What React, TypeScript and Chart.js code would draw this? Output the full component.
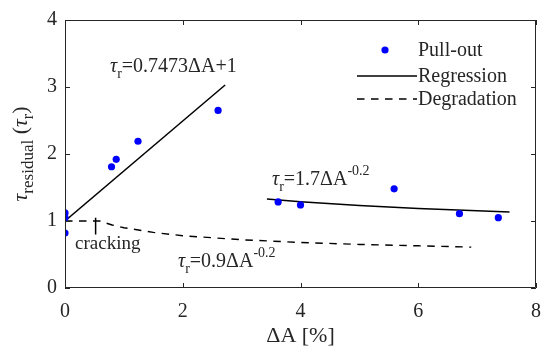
import React, { useEffect, useRef } from "react";
import { Chart, registerables } from "chart.js";

Chart.register(...registerables);

// Data
const pullOutX = [0, 0, 0, 0.79, 0.87, 1.24, 2.6, 3.62, 4.0, 5.59, 6.7, 7.36];
const pullOutY = [1.12, 1.05, 0.82, 1.81, 1.92, 2.19, 2.65, 1.285, 1.24, 1.48, 1.11, 1.05];

const reg1X = [0, 2.72];
const reg1Y = [1, 3.03];

const reg2X = [3.43, 4, 5, 6, 7, 7.55];
const reg2Y = [1.33, 1.288, 1.232, 1.188, 1.152, 1.135];

const degX = [0, 0.59, 0.8, 1, 1.5, 2, 3, 4, 5, 6, 6.9];
const degY = [1, 1, 0.94, 0.9, 0.83, 0.78, 0.72, 0.68, 0.65, 0.63, 0.61];

const crackX = [0.52, 0.52];
const crackY = [1.05, 0.8];

const xTicks = [0, 2, 4, 6, 8];
const yTicks = [0, 1, 2, 3, 4];

const legendLabels = ["Pull-out", "Regression", "Degradation"];

const FONT = '"Liberation Serif"';
const TXT = "#262626";

const pts = (xs: number[], ys: number[]) => xs.map((x, i) => ({ x, y: ys[i] }));

type Part = { t: string; size: number; dy?: number; italic?: boolean };

function measureParts(ctx: CanvasRenderingContext2D, parts: Part[]) {
  let w = 0;
  for (const p of parts) {
    ctx.font = `${p.italic ? "italic " : ""}${p.size}px ${FONT}`;
    w += ctx.measureText(p.t).width;
  }
  return w;
}

function drawParts(ctx: CanvasRenderingContext2D, x: number, y: number, parts: Part[]) {
  ctx.textBaseline = "alphabetic";
  ctx.textAlign = "left";
  let cx = x;
  for (const p of parts) {
    ctx.font = `${p.italic ? "italic " : ""}${p.size}px ${FONT}`;
    ctx.fillText(p.t, cx, y + (p.dy || 0));
    cx += ctx.measureText(p.t).width;
  }
}

const overlay = {
  id: "overlay",
  afterDatasetsDraw(chart: any) {
    const ctx: CanvasRenderingContext2D = chart.ctx;
    const { left, right, top, bottom } = chart.chartArea;
    const xs = chart.scales.x;
    const ys = chart.scales.y;
    ctx.save();
    ctx.strokeStyle = TXT;
    ctx.lineWidth = 1;
    ctx.beginPath();
    ctx.rect(left + 0.5, top + 0.5, right - left - 1, bottom - top - 1);
    ctx.stroke();
    const tl = 5;
    ctx.beginPath();
    for (const v of xTicks) {
      const px = Math.round(xs.getPixelForValue(v)) + 0.5;
      ctx.moveTo(px, bottom);
      ctx.lineTo(px, bottom - tl);
      ctx.moveTo(px, top);
      ctx.lineTo(px, top + tl);
    }
    for (const v of yTicks) {
      const py = Math.round(ys.getPixelForValue(v)) + 0.5;
      ctx.moveTo(left, py);
      ctx.lineTo(left + tl, py);
      ctx.moveTo(right, py);
      ctx.lineTo(right - tl, py);
    }
    ctx.stroke();
    ctx.restore();
  },
  afterDraw(chart: any) {
    const ctx: CanvasRenderingContext2D = chart.ctx;
    ctx.save();
    ctx.fillStyle = TXT;

    drawParts(ctx, 110, 72, [
      { t: "τ", size: 20, italic: true },
      { t: "r", size: 14, dy: 6 },
      { t: "=0.7473ΔA+1", size: 20 },
    ]);
    drawParts(ctx, 272, 185, [
      { t: "τ", size: 20, italic: true },
      { t: "r", size: 14, dy: 6 },
      { t: "=1.7ΔA", size: 20 },
      { t: "-0.2", size: 14, dy: -10 },
    ]);
    drawParts(ctx, 178, 267, [
      { t: "τ", size: 20, italic: true },
      { t: "r", size: 14, dy: 6 },
      { t: "=0.9ΔA", size: 20 },
      { t: "-0.2", size: 14, dy: -10 },
    ]);
    drawParts(ctx, 75, 249, [{ t: "cracking", size: 19 }]);

    const xt: Part[] = [{ t: "ΔA [%]", size: 22 }];
    const xw = measureParts(ctx, xt);
    const xc = (chart.chartArea.left + chart.chartArea.right) / 2;
    drawParts(ctx, xc - xw / 2, 342, xt);

    const yt: Part[] = [
      { t: "τ", size: 22, italic: true },
      { t: "residual", size: 17, dy: 6 },
      { t: " (", size: 22 },
      { t: "τ", size: 22, italic: true },
      { t: "r", size: 16, dy: 6 },
      { t: ")", size: 22 },
    ];
    const yw = measureParts(ctx, yt);
    const yc = (chart.chartArea.top + chart.chartArea.bottom) / 2;
    ctx.save();
    ctx.translate(27, yc);
    ctx.rotate(-Math.PI / 2);
    drawParts(ctx, -yw / 2, 0, yt);
    ctx.restore();

    const lx0 = 357;
    const lx1 = 417;
    const rows = [50, 76, 99];
    ctx.fillStyle = "#0000ff";
    ctx.beginPath();
    ctx.arc((lx0 + lx1) / 2 - 2, rows[0], 3.6, 0, Math.PI * 2);
    ctx.fill();
    ctx.strokeStyle = "#000";
    ctx.lineWidth = 1.5;
    ctx.beginPath();
    ctx.moveTo(lx0, rows[1]);
    ctx.lineTo(lx1, rows[1]);
    ctx.stroke();
    ctx.setLineDash([7.5, 6.5]);
    ctx.beginPath();
    ctx.moveTo(lx0, rows[2]);
    ctx.lineTo(lx1, rows[2]);
    ctx.stroke();
    ctx.setLineDash([]);
    ctx.fillStyle = TXT;
    ctx.font = `20px ${FONT}`;
    ctx.textBaseline = "middle";
    ctx.textAlign = "left";
    legendLabels.forEach((lab, i) => {
      ctx.fillText(lab, lx1 + 1, rows[i] + 1);
    });
    ctx.restore();
  },
};

export default function App() {
  const ref = useRef<HTMLCanvasElement | null>(null);
  useEffect(() => {
    const canvas = ref.current!;
    const chart = new Chart(canvas, {
      type: "scatter",
      data: {
        datasets: [
          {
            label: "Pull-out",
            data: pts(pullOutX, pullOutY),
            pointRadius: 3.6,
            pointBackgroundColor: "#0000ff",
            pointBorderWidth: 0,
            showLine: false,
          },
          {
            label: "Regression",
            data: pts(reg1X, reg1Y),
            showLine: true,
            borderColor: "#000",
            borderWidth: 1.5,
            pointRadius: 0,
          },
          {
            label: "Regression 2",
            data: pts(reg2X, reg2Y),
            showLine: true,
            borderColor: "#000",
            borderWidth: 1.5,
            pointRadius: 0,
          },
          {
            label: "Degradation",
            data: pts(degX, degY),
            showLine: true,
            borderColor: "#000",
            borderWidth: 1.4,
            borderDash: [7.5, 6.5],
            pointRadius: 0,
          },
          {
            label: "cracking",
            data: pts(crackX, crackY),
            showLine: true,
            borderColor: "#000",
            borderWidth: 1.5,
            pointRadius: 0,
          },
        ],
      },
      options: {
        animation: false,
        responsive: false,
        devicePixelRatio: 1,
        layout: { padding: { top: 15, right: 6, left: 0, bottom: 0 } },
        plugins: { legend: { display: false }, tooltip: { enabled: false } },
        scales: {
          x: {
            type: "linear",
            min: 0,
            max: 8,
            afterFit: (s: any) => {
              s.height = 66;
            },
            afterBuildTicks: (s: any) => {
              s.ticks = xTicks.map((v) => ({ value: v }));
            },
            grid: { display: false, drawTicks: false },
            border: { display: false },
            ticks: {
              padding: 12,
              color: TXT,
              font: { family: FONT, size: 20 },
              maxRotation: 0,
            },
          },
          y: {
            type: "linear",
            min: 0,
            max: 4,
            afterFit: (s: any) => {
              s.width = 65;
            },
            afterBuildTicks: (s: any) => {
              s.ticks = yTicks.map((v) => ({ value: v }));
            },
            grid: { display: false, drawTicks: false },
            border: { display: false },
            ticks: {
              padding: 8,
              color: TXT,
              font: { family: FONT, size: 20 },
            },
          },
        },
      },
      plugins: [overlay],
    });
    let alive = true;
    const redraw = () => {
      if (alive) chart.update();
    };
    const fonts = (document as any).fonts;
    if (fonts && fonts.ready) fonts.ready.then(redraw).catch(() => {});
    const t = setTimeout(redraw, 60);
    return () => {
      alive = false;
      clearTimeout(t);
      chart.destroy();
    };
  }, []);
  return (
    <div style={{ position: "absolute", left: 0, top: 0, width: 553, height: 354 }}>
      <canvas ref={ref} width={553} height={354} />
      <span
        style={{
          position: "absolute",
          left: 0,
          top: 0,
          fontFamily: "Liberation Serif",
          fontSize: 1,
          color: "transparent",
        }}
      >
        τΔ
      </span>
    </div>
  );
}
